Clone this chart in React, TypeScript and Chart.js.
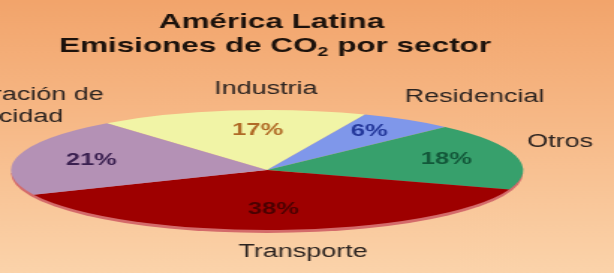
import { useEffect, useRef } from 'react';
import { Chart, registerables } from 'chart.js';

Chart.register(...registerables);

// ---- data ----
const sectors = ['Industria', 'Residencial', 'Otros', 'Transporte', 'Generación de electricidad'];
const shares = [17, 6, 18, 38, 21];
const sectorLabelLines = [['Industria'], ['Residencial'], ['Otros'], ['Transporte'], ['Generación de', 'electricidad']];
const titleLine1 = 'América Latina';
const titleLine2 = ['Emisiones de CO', '2', ' por sector'];

// ---- styles ----
const sliceColors = ['#f1f4a6', '#7f97ea', '#37a06c', '#9e0000', '#b491b5'];
const pctColors = ['#b06a26', '#23379a', '#13583a', '#4a0000', '#3a2050'];

// ---- layout ----
const CANVAS_W = 410;
const CANVAS_H = 273;
const STRETCH = 614 / CANVAS_W; // picture is stretched horizontally
const RX_STRETCHED = 256;
const RY = 60;
const SX = RX_STRETCHED / STRETCH / RY;
const FONT = '"Liberation Sans", Arial, Helvetica, sans-serif';
const pctNudge = [[16, 1.5], [4, -4], [5, -1], [-2, -3], [-1.5, 0]];
const outerNudge = [
  { align: 'center', dx: 35, dy: -22 },
  { align: 'center', dx: 67, dy: -23 },
  { align: 'center', dx: 44, dy: -14 },
  { align: 'center', dx: 24, dy: 22 },
  { align: 'left', dx: -91, dy: -61 },
];

const ellipsePlugin = {
  id: 'ellipsePie',
  beforeDraw(chart: any) {
    const ctx = chart.ctx;
    const g = ctx.createLinearGradient(0, 0, 0, chart.height);
    g.addColorStop(0, '#f2a46b');
    g.addColorStop(0.5, '#f7bb8a');
    g.addColorStop(1, '#fbd3aa');
    ctx.save();
    ctx.fillStyle = g;
    ctx.fillRect(0, 0, chart.width, chart.height);
    ctx.restore();
  },
  beforeDatasetsDraw(chart: any) {
    const ctx = chart.ctx;
    const arc = chart.getDatasetMeta(0).data[0];
    const { x, y, outerRadius } = arc;
    // 3D rim under the front edge
    ctx.save();
    ctx.fillStyle = '#d46a6a';
    ctx.beginPath();
    ctx.ellipse(x, y + 3, outerRadius * SX, outerRadius, 0, 0, Math.PI);
    ctx.closePath();
    ctx.fill();
    ctx.restore();
    ctx.save();
    ctx.translate(x, y);
    ctx.scale(SX, 1);
    ctx.translate(-x, -y);
  },
  afterDatasetsDraw(chart: any) {
    const ctx = chart.ctx;
    ctx.restore();
    const meta = chart.getDatasetMeta(0);
    ctx.save();
    ctx.textBaseline = 'middle';
    meta.data.forEach((el: any, i: number) => {
      const { x, y, outerRadius, startAngle, endAngle } = el;
      const mid = (startAngle + endAngle) / 2;
      const c = Math.cos(mid);
      const s = Math.sin(mid);
      // percentage inside
      ctx.font = `bold 17px ${FONT}`;
      ctx.fillStyle = pctColors[i];
      ctx.textAlign = 'center';
      const px = x + 0.7 * outerRadius * SX * c + pctNudge[i][0] / STRETCH;
      const py = y + 0.7 * outerRadius * s + pctNudge[i][1];
      ctx.fillText(`${shares[i]}%`, px, py);
      // sector name outside
      const ex = x + outerRadius * SX * c;
      const ey = y + outerRadius * s;
      const n = outerNudge[i];
      ctx.font = `18px ${FONT}`;
      ctx.fillStyle = '#2b2320';
      ctx.textAlign = n.align as CanvasTextAlign;
      sectorLabelLines[i].forEach((line, j) => {
        ctx.fillText(line, ex + n.dx / STRETCH, ey + n.dy + j * 22);
      });
    });
    ctx.restore();
  },
  afterDraw(chart: any) {
    const ctx = chart.ctx;
    ctx.save();
    ctx.fillStyle = '#1c120c';
    ctx.textBaseline = 'alphabetic';
    ctx.textAlign = 'center';
    ctx.font = `bold 21px ${FONT}`;
    ctx.fillText(titleLine1, 271.5 / STRETCH, 28);
    // second line with subscript
    const big = `bold 21px ${FONT}`;
    const small = `bold 13px ${FONT}`;
    ctx.font = big;
    const w1 = ctx.measureText(titleLine2[0]).width;
    const w3 = ctx.measureText(titleLine2[2]).width;
    ctx.font = small;
    const w2 = ctx.measureText(titleLine2[1]).width;
    const total = w1 + w2 + w3;
    let cx = 275 / STRETCH - total / 2;
    ctx.textAlign = 'left';
    ctx.font = big;
    ctx.fillText(titleLine2[0], cx, 52);
    cx += w1;
    ctx.font = small;
    ctx.fillText(titleLine2[1], cx, 56);
    cx += w2;
    ctx.font = big;
    ctx.fillText(titleLine2[2], cx, 52);
    ctx.restore();
  },
};

export default function App() {
  const ref = useRef<HTMLCanvasElement | null>(null);
  useEffect(() => {
    const canvas = ref.current;
    if (!canvas) return;
    Chart.defaults.font.family = FONT;
    const centerX = 267 / STRETCH;
    const chart = new Chart(canvas, {
      type: 'pie',
      data: {
        labels: sectors,
        datasets: [
          {
            data: shares,
            backgroundColor: sliceColors,
            borderWidth: 0,
            clip: false as any,
          },
        ],
      },
      options: {
        responsive: false,
        animation: false,
        events: [],
        rotation: -38.7,
        layout: {
          padding: { top: 110, bottom: CANVAS_H - 230, left: 0, right: CANVAS_W - 2 * centerX },
        },
        plugins: {
          legend: { display: false },
          tooltip: { enabled: false },
          title: { display: false },
        },
      },
      plugins: [ellipsePlugin],
    });
    return () => chart.destroy();
  }, []);
  return (
    <div style={{ position: 'fixed', left: 0, top: 0, width: 614, height: 273, overflow: 'hidden' }}>
      <canvas
        ref={ref}
        width={CANVAS_W}
        height={CANVAS_H}
        style={{ width: '614px', height: '273px', display: 'block' }}
      />
    </div>
  );
}
